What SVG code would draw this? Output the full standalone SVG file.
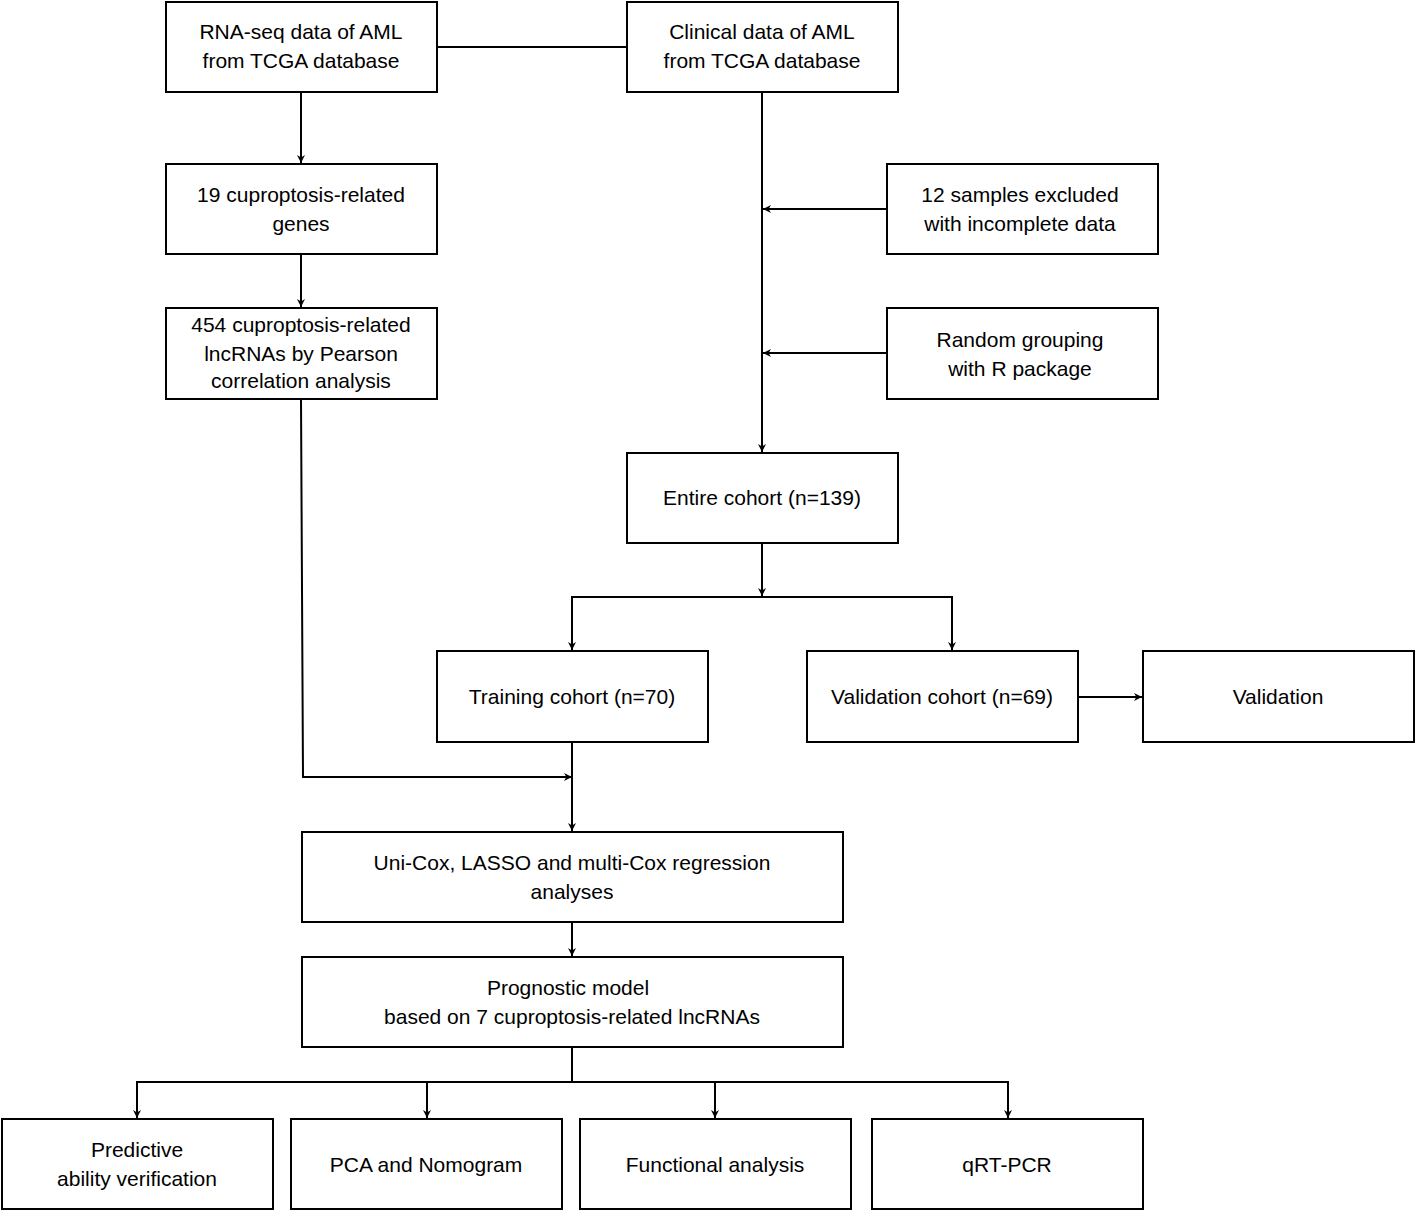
<svg xmlns="http://www.w3.org/2000/svg" width="1416" height="1212" viewBox="0 0 1416 1212">
<style>
rect{fill:#fff;stroke:#000;stroke-width:2}
text{font-family:"Liberation Sans",Arial,sans-serif;font-size:21px;fill:#000;text-anchor:middle}
.c path{fill:none;stroke:#000;stroke-width:2}
</style>
<defs><marker id="a" viewBox="0 0 10 10" refX="10" refY="5" markerWidth="8" markerHeight="8" markerUnits="userSpaceOnUse" orient="auto"><path d="M0,0L10,5L0,10L3,5z" fill="#000"/></marker></defs>
<rect width="1416" height="1212" style="stroke:none"/>
<g class="c">
<path d="M437,47H627"/>
<path d="M301,92V163" marker-end="url(#a)"/>
<path d="M301,254V307" marker-end="url(#a)"/>
<path d="M762,92V452" marker-end="url(#a)"/>
<path d="M887,209H763" marker-end="url(#a)"/>
<path d="M887,353H763" marker-end="url(#a)"/>
<path d="M762,543V596" marker-end="url(#a)"/>
<path d="M572,650V597H952V650" marker-end="url(#a)"/>
<path d="M572,597V650" marker-end="url(#a)"/>
<path d="M1078,697H1142" marker-end="url(#a)"/>
<path d="M301,399L303,777H572" marker-end="url(#a)"/>
<path d="M572,742V831" marker-end="url(#a)"/>
<path d="M572,922V956" marker-end="url(#a)"/>
<path d="M572,1047V1082"/>
<path d="M137,1118V1082H1008V1118" marker-end="url(#a)"/>
<path d="M137,1082V1118" marker-end="url(#a)"/>
<path d="M427,1082V1118" marker-end="url(#a)"/>
<path d="M715,1082V1118" marker-end="url(#a)"/>
</g>
<g id="rna"><rect x="166" y="2" width="271" height="90"/><text x="301" y="39">RNA-seq data of AML</text><text x="301" y="68">from TCGA database</text></g>
<g id="clin"><rect x="627" y="2" width="271" height="90"/><text x="762" y="39">Clinical data of AML</text><text x="762" y="68">from TCGA database</text></g>
<g id="genes"><rect x="166" y="164" width="271" height="90"/><text x="301" y="202">19 cuproptosis-related</text><text x="301" y="231">genes</text></g>
<g id="lnc"><rect x="166" y="308" width="271" height="91"/><text x="301" y="332">454 cuproptosis-related</text><text x="301" y="361">lncRNAs by Pearson</text><text x="301" y="388">correlation analysis</text></g>
<g id="excl"><rect x="887" y="164" width="271" height="90"/><text x="1020" y="202">12 samples excluded</text><text x="1020" y="231">with incomplete data</text></g>
<g id="rand"><rect x="887" y="308" width="271" height="91"/><text x="1020" y="347">Random grouping</text><text x="1020" y="376">with R package</text></g>
<g id="entire"><rect x="627" y="453" width="271" height="90"/><text x="762" y="505">Entire cohort (n=139)</text></g>
<g id="train"><rect x="437" y="651" width="271" height="91"/><text x="572" y="704">Training cohort (n=70)</text></g>
<g id="valc"><rect x="807" y="651" width="271" height="91"/><text x="942" y="704">Validation cohort (n=69)</text></g>
<g id="val"><rect x="1143" y="651" width="271" height="91"/><text x="1278" y="704">Validation</text></g>
<g id="cox"><rect x="302" y="832" width="541" height="90"/><text x="572" y="870">Uni-Cox, LASSO and multi-Cox regression</text><text x="572" y="899">analyses</text></g>
<g id="prog"><rect x="302" y="957" width="541" height="90"/><text x="568" y="995">Prognostic model</text><text x="572" y="1024">based on 7 cuproptosis-related lncRNAs</text></g>
<g id="pred"><rect x="2" y="1119" width="271" height="90"/><text x="137" y="1157">Predictive</text><text x="137" y="1186">ability verification</text></g>
<g id="pca"><rect x="291" y="1119" width="271" height="90"/><text x="426" y="1172">PCA and Nomogram</text></g>
<g id="func"><rect x="580" y="1119" width="271" height="90"/><text x="715" y="1172">Functional analysis</text></g>
<g id="qrt"><rect x="872" y="1119" width="271" height="90"/><text x="1007" y="1172">qRT-PCR</text></g>
</svg>
